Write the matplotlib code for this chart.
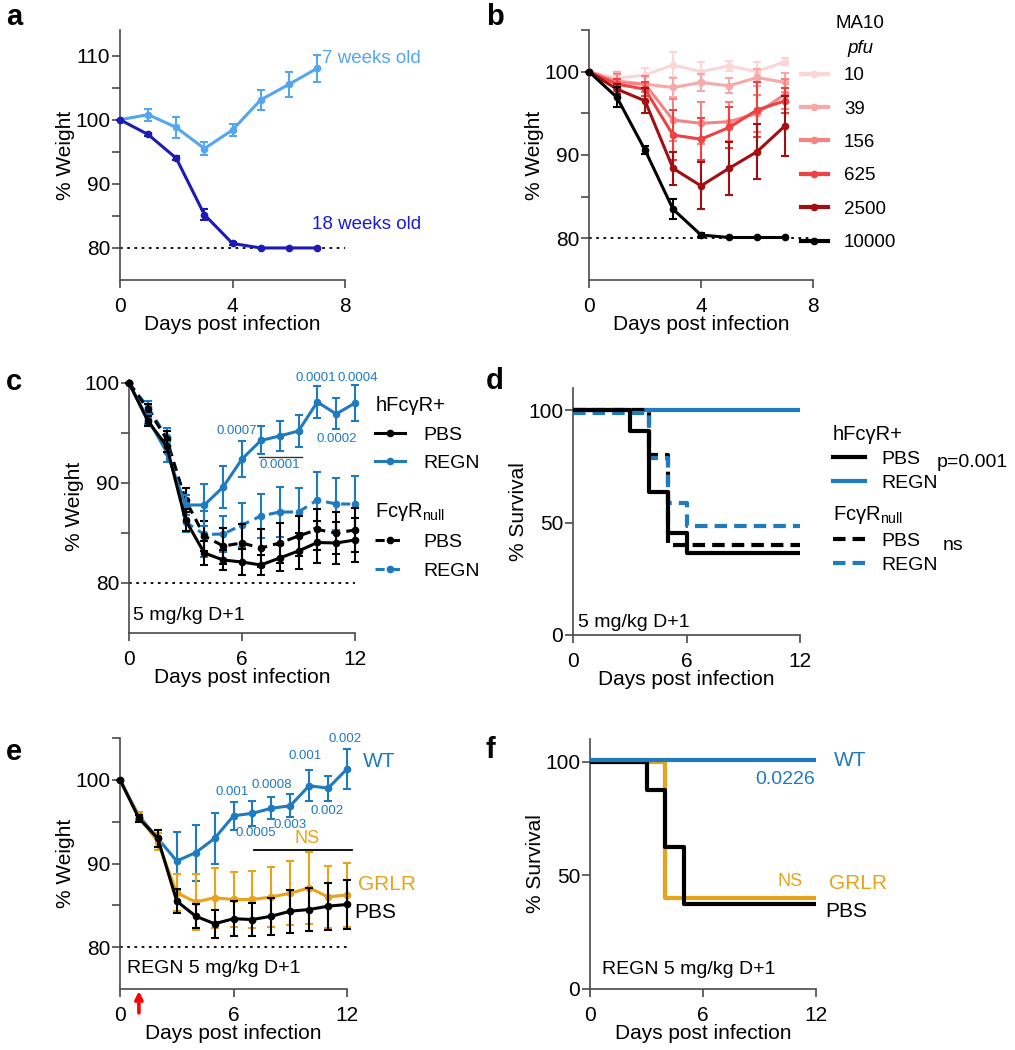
import numpy as np
import matplotlib
matplotlib.use("Agg")
import matplotlib.pyplot as plt
from matplotlib.lines import Line2D
from matplotlib.ticker import FixedLocator
from matplotlib.transforms import ScaledTranslation

plt.rcParams['font.family'] = ['Liberation Sans', 'DejaVu Sans']
plt.rcParams['mathtext.fontset'] = 'custom'
plt.rcParams['mathtext.rm'] = 'Liberation Sans'
plt.rcParams['mathtext.it'] = 'Liberation Sans:italic'
plt.rcParams['mathtext.bf'] = 'Liberation Sans:bold'

# ---- panel a: age ----
days_a = [0, 1, 2, 3, 4, 5, 6, 7]
wk7 = [100, 100.8, 98.8, 95.5, 98.4, 103.1, 105.5, 108.0]
wk7_err = [0, 0.95, 1.6, 1.0, 1.0, 1.55, 1.9, 2.1]
wk18 = [100, 97.7, 94.0, 85.2, 80.7, 80.0, 80.0, 80.0]
wk18_err = [0, 0.2, 0.3, 0.8, 0.2, 0, 0, 0]

# ---- panel b: MA10 dose ----
days_b = [0, 1, 2, 3, 4, 5, 6, 7]
doses = ['10', '39', '156', '625', '2500', '10000']
dose_means = [
    [100, 99.2, 99.6, 100.8, 100.0, 100.7, 100.0, 101.2],
    [100, 98.9, 98.5, 98.1, 98.7, 98.3, 99.3, 98.7],
    [100, 98.7, 98.5, 94.2, 93.8, 94.0, 95.0, 97.3],
    [100, 98.5, 97.9, 92.4, 91.9, 93.3, 95.4, 96.5],
    [100, 97.9, 96.5, 88.4, 86.3, 88.4, 90.4, 93.5],
    [100, 96.9, 90.6, 83.5, 80.4, 80.1, 80.1, 80.1],
]
dose_errs = [
    [0, 0.8, 0.8, 1.5, 1.2, 0.6, 1.1, 0.45],
    [0, 1.0, 1.0, 1.1, 1.0, 0.9, 1.0, 1.1],
    [0, 1.0, 1.0, 2.5, 2.5, 2.3, 2.2, 1.8],
    [0, 0.6, 0.8, 3.0, 2.5, 2.5, 3.3, 1.5],
    [0, 0.6, 1.5, 2.0, 2.8, 3.2, 3.3, 3.6],
    [0, 1.2, 0.5, 1.2, 0.2, 0, 0, 0],
]
dose_colors = ['#fcd6d6', '#f7a9a9', '#f58383', '#ee4242', '#a30f10', 'black']

# ---- panel c: weight, hFcgR+ vs FcgRnull ----
days_c = list(range(13))
h_pbs = [100, 96.2, 93.7, 86.3, 83.0, 82.3, 82.1, 81.8, 82.5, 83.2, 84.05, 84.0, 84.3]
h_pbs_err = [0, 0.5, 0.6, 1.1, 1.2, 1.0, 1.3, 1.0, 1.3, 1.8, 2.1, 2.1, 2.2]
h_regn = [100, 96.4, 93.1, 87.8, 87.8, 89.6, 92.4, 94.25, 94.7, 95.2, 98.1, 96.9, 98.0]
h_regn_err = [0, 0.5, 1.0, 1.0, 2.1, 2.1, 1.8, 1.4, 1.5, 1.6, 1.6, 1.55, 1.8]
n_pbs = [100, 97.4, 94.4, 88.3, 84.7, 83.7, 84.0, 83.5, 84.0, 84.7, 85.35, 85.0, 85.3]
n_pbs_err = [0, 0.5, 0.8, 1.2, 1.5, 1.8, 1.9, 1.9, 2.0, 2.0, 2.1, 2.1, 2.2]
n_regn = [100, 97.6, 94.6, 86.1, 84.85, 84.9, 85.8, 86.7, 87.1, 87.1, 88.3, 87.9, 87.9]
n_regn_err = [0, 0.6, 0.9, 1.0, 2.3, 1.8, 2.2, 2.2, 2.5, 2.4, 2.8, 2.6, 2.75]
c_pvals = ['0.0001', '0.0004', '0.0007', '0.0002', '0.0001']
c_pval_x = [9.93, 12.16, 5.74, 11.05, 8.02]
c_pval_y = [100.45, 100.45, 95.2, 94.35, 91.85]

# ---- panel d: survival, hFcgR+ vs FcgRnull ----
d_h_pbs_t = [0, 3, 4, 5, 6, 12]
d_h_pbs_s = [100, 90.9, 63.6, 45.5, 36.4, 36.4]
d_h_regn_t = [0, 12]
d_h_regn_s = [100, 100]
d_n_pbs_t = [0, 4, 5, 12]
d_n_pbs_s = [100, 80, 40, 40]
d_n_regn_t = [0, 4, 5, 6, 12]
d_n_regn_s = [100, 80, 60, 50, 50]

# ---- panel e: weight, WT vs GRLR ----
days_e = list(range(13))
wt = [100, 95.7, 93.0, 90.3, 91.3, 93.0, 95.7, 96.0, 96.6, 96.9, 99.3, 99.0, 101.3]
wt_err = [0, 0.5, 1.0, 3.5, 3.35, 3.07, 1.7, 1.5, 1.3, 1.4, 1.85, 1.5, 2.4]
grlr = [100, 95.6, 92.6, 86.5, 85.4, 85.9, 85.7, 85.7, 86.0, 86.45, 87.1, 86.0, 86.25]
grlr_err = [0, 0.5, 1.0, 2.2, 3.35, 3.6, 3.3, 3.4, 3.55, 3.8, 4.3, 3.7, 3.8]
pbs_e = [100, 95.4, 93.0, 85.5, 83.7, 82.8, 83.4, 83.3, 83.7, 84.3, 84.5, 84.9, 85.1]
pbs_e_err = [0, 0.4, 1.0, 1.4, 1.45, 1.7, 2.1, 2.0, 2.2, 2.55, 2.6, 2.8, 2.95]
e_pvals = ['0.002', '0.001', '0.0008', '0.001', '0.002', '0.0005', '0.003']
e_pval_x = [11.91, 9.79, 8.03, 5.91, 10.94, 7.15, 9.0]
e_pval_y = [104.9, 102.8, 99.4, 98.5, 96.3, 93.7, 94.6]

# ---- panel f: survival, WT vs GRLR ----
f_wt_t = [0, 12]
f_wt_s = [100, 100]
f_pbs_t = [0, 3, 4, 5, 12]
f_pbs_s = [100, 87.5, 62.5, 37.5, 37.5]
f_grlr_t = [0, 4, 12]
f_grlr_s = [100, 40, 40]

BLUE = '#1f7bbf'
ORANGE = '#e9a319'
SPINE = '#4a4a4a'
W, H = 1015, 1050

fig = plt.figure(figsize=(W / 100, H / 100), dpi=100)


def add_ax(left, top, right, bottom):
    return fig.add_axes([left / W, 1 - bottom / H, (right - left) / W, (bottom - top) / H])


def style(ax, xlim, xticks, ylim, yticks, yminor, ylabel):
    for s in ['top', 'right']:
        ax.spines[s].set_visible(False)
    for s in ['left', 'bottom']:
        ax.spines[s].set_color(SPINE)
        ax.spines[s].set_linewidth(1.2)
    ax.set_xlim(*xlim)
    ax.set_ylim(*ylim)
    ax.set_xticks(xticks)
    ax.set_yticks(yticks)
    ax.yaxis.set_minor_locator(FixedLocator(yminor))
    ax.tick_params(which='both', length=6, width=1.2, color=SPINE, labelsize=15)
    ax.tick_params(axis='y', pad=1)
    ax.tick_params(axis='x', pad=6.5)
    ax.set_xlabel('Days post infection', fontsize=15, labelpad=-1)
    ax.set_ylabel(ylabel, fontsize=15, labelpad=0)


def ebar(ax, x, y, e, color, ls='-', z=2):
    c = ax.errorbar(x, y, yerr=e, color=color, lw=2.2, ls=ls, marker='o', ms=4.5,
                    capsize=3, elinewidth=1.5, capthick=1.5, zorder=z)
    for art in c.get_children():
        art.set_clip_on(False)
    return c


def letter(x, y, s):
    fig.text(x / W, 1 - y / H, s, fontsize=21, fontweight='bold', ha='left', va='center')


# ---------- a ----------
ax = add_ax(120, 30, 345, 280)
style(ax, (0, 8), [0, 4, 8], (75, 114), [80, 90, 100, 110], [85, 95, 105], '% Weight')
ax.plot([0, 8], [80, 80], color='black', lw=1.3, ls=(0, (1.5, 2.5)), zorder=1)
ebar(ax, days_a, wk18, wk18_err, '#1c1cb4', z=3)
ebar(ax, days_a, wk7, wk7_err, '#55a6f0', z=2)
ax.text(7.17, 109.6, '7 weeks old', color='#55a6f0', fontsize=13.5, ha='left', va='center')
ax.text(6.82, 83.6, '18 weeks old', color='#1a1ad6', fontsize=13.5, ha='left', va='center')
letter(6, 17, 'a')

# ---------- b ----------
ax = add_ax(589, 30, 813, 280)
style(ax, (0, 8), [0, 4, 8], (75, 105), [80, 90, 100], [85, 95, 105], '% Weight')
ax.plot([0, 8], [80, 80], color='black', lw=1.3, ls=(0, (1.5, 2.5)), zorder=1)
for i, (m, e, col) in enumerate(zip(dose_means, dose_errs, dose_colors)):
    ebar(ax, days_b, m, e, col, z=2 + i)
handles = [Line2D([], [], color=c, lw=3, marker='o', ms=4.5) for c in dose_colors]
ax.legend(handles, doses, loc='upper left', bbox_to_anchor=(0.946, 0.852), frameon=False,
          fontsize=13.5, handlelength=1.45, handletextpad=0.85, labelspacing=0.87,
          borderpad=0, borderaxespad=0)
ax.text(1.21, 1.026, 'MA10', transform=ax.transAxes, fontsize=13.5, ha='center', va='center')
ax.text(1.21, 0.926, 'pfu', transform=ax.transAxes, fontsize=13.5, style='italic',
        ha='center', va='center')
letter(486, 17, 'b')

# ---------- c ----------
ax = add_ax(129, 380, 355, 633)
style(ax, (0, 12), [0, 6, 12], (75, 100.3), [80, 90, 100], [85, 95], '% Weight')
ax.plot([0, 12], [80, 80], color='black', lw=1.3, ls=(0, (1.5, 2.5)), zorder=1)
dash = (0, (3, 2))
ebar(ax, days_c, n_regn, n_regn_err, BLUE, ls=dash, z=2)
ebar(ax, days_c, n_pbs, n_pbs_err, 'black', ls=dash, z=3)
ebar(ax, days_c, h_regn, h_regn_err, BLUE, z=4)
ebar(ax, days_c, h_pbs, h_pbs_err, 'black', z=5)
for s, x, y in zip(c_pvals, c_pval_x, c_pval_y):
    ax.text(x, y, s, color=BLUE, fontsize=9.5, ha='center', va='center', clip_on=False)
ax.plot([6.9, 9.2], [92.6, 92.6], color='#333333', lw=1)
ax.text(0.21, 76.7, '5 mg/kg D+1', fontsize=14, ha='left', va='center')
h1 = [Line2D([], [], color='black', lw=2.2, marker='o', ms=4.5),
      Line2D([], [], color=BLUE, lw=2.2, marker='o', ms=4.5)]
h2 = [Line2D([], [], color='black', lw=2.2, ls=dash, marker='o', ms=4.5),
      Line2D([], [], color=BLUE, lw=2.2, ls=dash, marker='o', ms=4.5)]
kw = dict(loc='upper left', frameon=False, fontsize=14, title_fontsize=14.5,
          handlelength=1.5, handletextpad=0.95, labelspacing=0.55, borderpad=0,
          borderaxespad=0, alignment='left')
l1 = ax.legend(h1, ['PBS', 'REGN'], title='hFcγR+', bbox_to_anchor=(1.09, 0.935), **kw)
ax.add_artist(l1)
ax.legend(h2, ['PBS', 'REGN'], title='FcγR$_{\\mathrm{null}}$', bbox_to_anchor=(1.09, 0.522), **kw)
letter(6, 382, 'c')

# ---------- d ----------
ax = add_ax(573, 388, 800, 635)
style(ax, (0, 12), [0, 6, 12], (0, 110), [0, 50, 100], [], '% Survival')
sdash = (0, (3, 1.7))
down = ax.transData + ScaledTranslation(0, -2 / 72, fig.dpi_scale_trans)
ax.step(d_h_regn_t, d_h_regn_s, where='post', color=BLUE, lw=3, zorder=2)
ax.step(d_n_pbs_t, d_n_pbs_s, where='post', color='black', lw=3, ls=sdash, zorder=3)
ax.step(d_n_regn_t, d_n_regn_s, where='post', color=BLUE, lw=3, ls=sdash, zorder=4,
        transform=down)
ax.step(d_h_pbs_t, d_h_pbs_s, where='post', color='black', lw=3, zorder=5)
ax.text(0.25, 5.5, '5 mg/kg D+1', fontsize=14, ha='left', va='center')
g1 = [Line2D([], [], color='black', lw=3), Line2D([], [], color=BLUE, lw=3)]
g2 = [Line2D([], [], color='black', lw=3, ls=sdash), Line2D([], [], color=BLUE, lw=3, ls=sdash)]
kw = dict(loc='upper left', frameon=False, fontsize=14, title_fontsize=14.5,
          handlelength=1.65, handletextpad=0.85, labelspacing=0.32, borderpad=0,
          borderaxespad=0, alignment='left')
l1 = ax.legend(g1, ['PBS', 'REGN'], title='hFcγR+', bbox_to_anchor=(1.145, 0.85), **kw)
ax.add_artist(l1)
ax.legend(g2, ['PBS', 'REGN'], title='FcγR$_{\\mathrm{null}}$', bbox_to_anchor=(1.145, 0.53), **kw)
ax.text(19.2, 76.6, 'p=0.001', fontsize=14, ha='left', va='center', clip_on=False)
ax.text(19.55, 40, 'ns', fontsize=14, ha='left', va='center', clip_on=False)
letter(486, 381, 'd')

# ---------- e ----------
ax = add_ax(120, 738, 347, 989)
style(ax, (0, 12), [0, 6, 12], (75, 105), [80, 90, 100], [85, 95, 105], '% Weight')
ax.plot([0, 12], [80, 80], color='black', lw=1.3, ls=(0, (1.5, 2.5)), zorder=1)
ebar(ax, days_e, wt, wt_err, BLUE, z=2)
ebar(ax, days_e, grlr, grlr_err, ORANGE, z=3)
ebar(ax, days_e, pbs_e, pbs_e_err, 'black', z=4)
for s, x, y in zip(e_pvals, e_pval_x, e_pval_y):
    ax.text(x, y, s, color=BLUE, fontsize=9.5, ha='center', va='center', clip_on=False)
ax.text(9.88, 93.0, 'NS', color=ORANGE, fontsize=13, ha='center', va='center')
ax.plot([7.1, 12.26], [91.6, 91.6], color='black', lw=1.3, clip_on=False)
ax.text(12.86, 102.2, 'WT', color=BLUE, fontsize=15, ha='left', va='center', clip_on=False)
ax.text(12.58, 87.5, 'GRLR', color=ORANGE, fontsize=15, ha='left', va='center', clip_on=False)
ax.text(12.4, 84.1, 'PBS', color='black', fontsize=15, ha='left', va='center', clip_on=False)
ax.text(0.35, 77.4, 'REGN 5 mg/kg D+1', fontsize=14, ha='left', va='center')
ax.annotate('', xy=(1, -0.008), xytext=(1, -0.095), xycoords=('data', 'axes fraction'),
            arrowprops=dict(arrowstyle='->', color='red', lw=2.6, mutation_scale=11,
                            shrinkA=0, shrinkB=0),
            annotation_clip=False)
letter(6, 752, 'e')

# ---------- f ----------
ax = add_ax(590, 739, 816, 989)
style(ax, (0, 12), [0, 6, 12], (0, 110), [0, 50, 100], [], '% Survival')
up = ax.transData + ScaledTranslation(0, 1.5 / 72, fig.dpi_scale_trans)
ax.step(f_grlr_t, f_grlr_s, where='post', color=ORANGE, lw=3, zorder=2)
ax.step(f_pbs_t, f_pbs_s, where='post', color='black', lw=3, zorder=3)
ax.step(f_wt_t, f_wt_s, where='post', color=BLUE, lw=3, zorder=4, transform=up)
ax.text(12.93, 100.4, 'WT', color=BLUE, fontsize=15, ha='left', va='center', clip_on=False)
ax.text(11.96, 92.4, '0.0226', color=BLUE, fontsize=14, ha='right', va='center')
ax.text(10.63, 47.1, 'NS', color=ORANGE, fontsize=13, ha='center', va='center')
ax.text(12.67, 46.4, 'GRLR', color=ORANGE, fontsize=15, ha='left', va='center', clip_on=False)
ax.text(12.49, 33.9, 'PBS', color='black', fontsize=15, ha='left', va='center', clip_on=False)
ax.text(0.62, 8.6, 'REGN 5 mg/kg D+1', fontsize=14, ha='left', va='center')
letter(486, 750, 'f')

fig.savefig('out.png', dpi=100)
